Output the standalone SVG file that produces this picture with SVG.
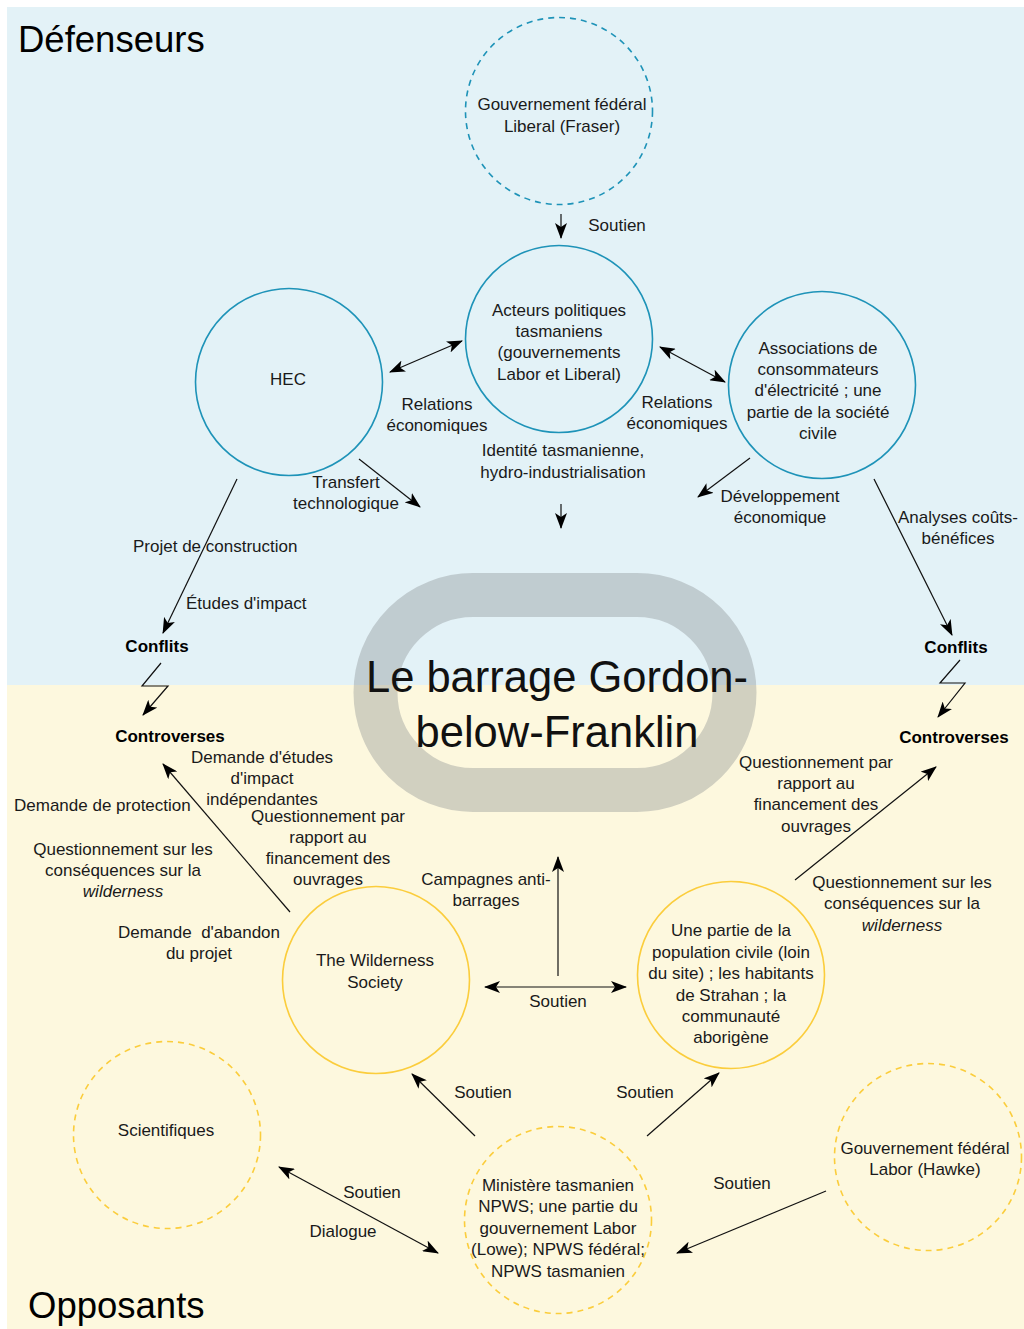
<svg xmlns="http://www.w3.org/2000/svg" width="1024" height="1329" viewBox="0 0 1024 1329">
<style>
text{font-family:"Liberation Sans",Arial,sans-serif;font-size:17px;fill:#1a1a1a;text-anchor:middle}
.title{font-size:36.5px;text-anchor:start;fill:#000}
.big{font-size:43.5px;fill:#111}
.b{font-weight:bold;fill:#000}
.l{text-anchor:start}
.i{font-style:italic}
.blue{fill:none;stroke:#1e93b8;stroke-width:1.6}
.yel{fill:none;stroke:#fbcd3c;stroke-width:1.6}
.dash{stroke-dasharray:6 5}
.c{fill:none;stroke:#111;stroke-width:1.2}
.a{marker-end:url(#ah)}
.d{marker-start:url(#ah);marker-end:url(#ah)}
</style>
<defs>
<marker id="ah" markerUnits="userSpaceOnUse" markerWidth="16" markerHeight="12" viewBox="0 0 16 12" refX="15" refY="6" orient="auto-start-reverse">
<path d="M0,0 L16,6 L0,12 L4,6 Z" fill="#000"/>
</marker>
</defs>
<rect x="0" y="0" width="1024" height="1329" fill="#fff"/>
<rect x="7" y="7" width="1017" height="678" fill="#e3f2f7"/>
<rect x="7" y="685" width="1017" height="644" fill="#fdf8de"/>
<rect x="375.5" y="595" width="359" height="195" rx="97.5" ry="97.5" fill="none" stroke="#8a8f91" stroke-opacity="0.38" stroke-width="44"/>
<text class="title" x="18" y="52">Défenseurs</text>
<text class="title" x="28" y="1318">Opposants</text>
<text class="big" x="557" y="692">Le barrage Gordon-</text>
<text class="big" x="557" y="747">below-Franklin</text>

<g id="connectors">
<line class="c a" x1="561" y1="214" x2="561" y2="238"/>
<line class="c d" x1="390" y1="372" x2="462" y2="341"/>
<line class="c d" x1="660" y1="347" x2="725" y2="382"/>
<line class="c a" x1="359" y1="459" x2="420" y2="507"/>
<line class="c a" x1="561" y1="504" x2="561" y2="528"/>
<line class="c a" x1="750" y1="458" x2="698" y2="497"/>
<line class="c a" x1="237" y1="479" x2="163" y2="633"/>
<polyline class="c a" points="161,663 142,686 168,686 143,715"/>
<line class="c a" x1="874" y1="479" x2="952" y2="635"/>
<polyline class="c a" points="960,660 940,683 965,683 938,717"/>
<line class="c a" x1="290" y1="912" x2="163" y2="764"/>
<line class="c a" x1="795" y1="880" x2="936" y2="767"/>
<line class="c a" x1="558" y1="976" x2="558" y2="857"/>
<line class="c d" x1="485" y1="987" x2="626" y2="987"/>
<line class="c a" x1="475" y1="1136" x2="412" y2="1074"/>
<line class="c a" x1="647" y1="1136" x2="719" y2="1073"/>
<line class="c d" x1="279" y1="1167" x2="438" y2="1253"/>
<line class="c a" x1="826" y1="1191" x2="677" y2="1253"/>
</g>

<g id="connector-labels">
<text x="617" y="231">Soutien</text>
<text x="437" y="410">Relations</text>
<text x="437" y="431">économiques</text>
<text x="677" y="408">Relations</text>
<text x="677" y="429">économiques</text>
<text x="346" y="488">Transfert</text>
<text x="346" y="509">technologique</text>
<text x="563" y="456">Identité tasmanienne,</text>
<text x="563" y="478">hydro-industrialisation</text>
<text x="780" y="502">Développement</text>
<text x="780" y="523">économique</text>
<text class="l" x="133" y="552">Projet de construction</text>
<text class="l" x="186" y="609">Études d'impact</text>
<text x="958" y="523">Analyses coûts-</text>
<text x="958" y="544">bénéfices</text>
<text class="b" x="157" y="652">Conflits</text>
<text class="b" x="170" y="742">Controverses</text>
<text class="b" x="956" y="653">Conflits</text>
<text class="b" x="954" y="743">Controverses</text>
<text x="262" y="763">Demande d'études</text>
<text x="262" y="784">d'impact</text>
<text x="262" y="805">indépendantes</text>
<text class="l" x="14" y="811">Demande de protection</text>
<text x="328" y="822">Questionnement par</text>
<text x="328" y="843">rapport au</text>
<text x="328" y="864">financement des</text>
<text x="328" y="885">ouvrages</text>
<text x="123" y="855">Questionnement sur les</text>
<text x="123" y="876">conséquences sur la</text>
<text class="i" x="123" y="897">wilderness</text>
<text x="199" y="938" style="white-space:pre">Demande  d'abandon</text>
<text x="199" y="959">du projet</text>
<text x="816" y="768">Questionnement par</text>
<text x="816" y="789">rapport au</text>
<text x="816" y="810">financement des</text>
<text x="816" y="832">ouvrages</text>
<text x="902" y="888">Questionnement sur les</text>
<text x="902" y="909">conséquences sur la</text>
<text class="i" x="902" y="931">wilderness</text>
<text x="486" y="885">Campagnes anti-</text>
<text x="486" y="906">barrages</text>
<text x="558" y="1007">Soutien</text>
<text x="483" y="1098">Soutien</text>
<text x="645" y="1098">Soutien</text>
<text x="372" y="1198">Soutien</text>
<text x="343" y="1237">Dialogue</text>
<text x="742" y="1189">Soutien</text>
</g>

<g id="node-fraser">
<circle class="blue dash" cx="559" cy="111" r="93.5"/>
<text x="562" y="110">Gouvernement fédéral</text>
<text x="562" y="132">Liberal (Fraser)</text>
</g>
<g id="node-acteurs">
<circle class="blue" cx="559" cy="339" r="93.5"/>
<text x="559" y="316">Acteurs politiques</text>
<text x="559" y="337">tasmaniens</text>
<text x="559" y="358">(gouvernements</text>
<text x="559" y="380">Labor et Liberal)</text>
</g>
<g id="node-hec">
<circle class="blue" cx="289" cy="382" r="93.5"/>
<text x="288" y="385">HEC</text>
</g>
<g id="node-associations">
<circle class="blue" cx="822" cy="385" r="93.5"/>
<text x="818" y="354">Associations de</text>
<text x="818" y="375">consommateurs</text>
<text x="818" y="396">d'électricité ; une</text>
<text x="818" y="418">partie de la société</text>
<text x="818" y="439">civile</text>
</g>
<g id="node-wilderness">
<circle class="yel" cx="376" cy="980" r="93.5"/>
<text x="375" y="966">The Wilderness</text>
<text x="375" y="988">Society</text>
</g>
<g id="node-population">
<circle class="yel" cx="731" cy="975" r="93.5"/>
<text x="731" y="936">Une partie de la</text>
<text x="731" y="958">population civile (loin</text>
<text x="731" y="979">du site) ; les habitants</text>
<text x="731" y="1001">de Strahan ; la</text>
<text x="731" y="1022">communauté</text>
<text x="731" y="1043">aborigène</text>
</g>
<g id="node-scientifiques">
<circle class="yel dash" cx="167" cy="1135" r="93.5"/>
<text x="166" y="1136">Scientifiques</text>
</g>
<g id="node-ministere">
<circle class="yel dash" cx="558" cy="1220" r="93.5"/>
<text x="558" y="1191">Ministère tasmanien</text>
<text x="558" y="1212">NPWS; une partie du</text>
<text x="558" y="1234">gouvernement Labor</text>
<text x="558" y="1255">(Lowe); NPWS fédéral;</text>
<text x="558" y="1277">NPWS tasmanien</text>
</g>
<g id="node-hawke">
<circle class="yel dash" cx="928" cy="1157" r="93.5"/>
<text x="925" y="1154">Gouvernement fédéral</text>
<text x="925" y="1175">Labor (Hawke)</text>
</g>
</svg>
